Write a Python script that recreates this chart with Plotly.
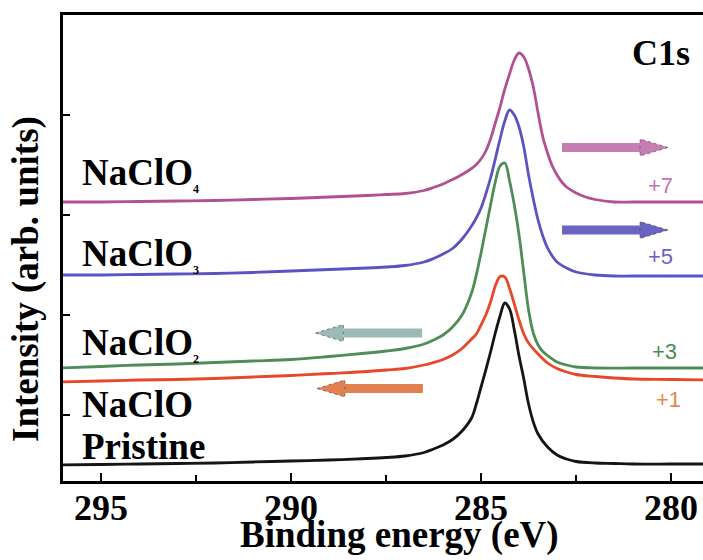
import plotly.graph_objects as go

# ---- C1s spectra (binding energy in eV, intensity in arb. units, offset per sample) ----
be_pristine = [296.1, 295, 294, 293, 292, 291, 290, 289, 288, 287.5, 287, 286.5, 286.25, 286,
               285.75, 285.5, 285.25, 285.125, 285.0, 284.875, 284.75, 284.625, 284.5, 284.375,
               284.25, 284.125, 284.0, 283.875, 283.75, 283.625, 283.5, 283.25, 283.0, 282.75,
               282.5, 282, 281.5, 281, 280, 279.1]
int_pristine = [0.50, 0.505, 0.51, 0.515, 0.52, 0.53, 0.54, 0.55, 0.565, 0.575, 0.59, 0.625, 0.66,
                0.70, 0.755, 0.84, 0.97, 1.11, 1.28, 1.45, 1.63, 1.82, 1.99, 2.12,
                2.06, 1.85, 1.59, 1.36, 1.11, 0.93, 0.81, 0.68, 0.60, 0.56,
                0.535, 0.52, 0.515, 0.51, 0.51, 0.51]

be_naclo = [296.1, 295, 294, 293, 292, 291, 290, 289, 288, 287.5, 287, 286.5, 286.25, 286,
            285.75, 285.5, 285.25, 285.125, 285.0, 284.875, 284.75, 284.625, 284.5, 284.375,
            284.25, 284.125, 284.0, 283.875, 283.75, 283.5, 283.25, 283.0, 282.75, 282.5,
            282, 281.5, 281, 280, 279.1]
int_naclo = [1.33, 1.34, 1.35, 1.355, 1.365, 1.38, 1.395, 1.415, 1.435, 1.45, 1.465, 1.50, 1.525,
             1.555, 1.60, 1.665, 1.76, 1.81, 1.90, 2.00, 2.13, 2.29, 2.385, 2.38,
             2.265, 2.11, 1.95, 1.81, 1.72, 1.61, 1.52, 1.465, 1.43, 1.405,
             1.385, 1.37, 1.36, 1.355, 1.35]

be_naclo2 = [296.1, 295, 294, 293, 292, 291, 290, 289, 288, 287.5, 287, 286.5, 286.25, 286,
             285.75, 285.5, 285.25, 285.125, 285.0, 284.875, 284.75, 284.625, 284.5, 284.375,
             284.25, 284.125, 284.0, 283.875, 283.75, 283.625, 283.5, 283.375, 283.25, 283.0,
             282.75, 282.5, 282, 281, 280, 279.1]
int_naclo2 = [1.47, 1.485, 1.50, 1.51, 1.525, 1.54, 1.555, 1.585, 1.62, 1.64, 1.665, 1.71, 1.75,
              1.80, 1.88, 2.00, 2.22, 2.40, 2.62, 2.86, 3.10, 3.33, 3.49, 3.52,
              3.34, 3.10, 2.80, 2.42, 2.05, 1.82, 1.70, 1.635, 1.595, 1.53,
              1.50, 1.48, 1.47, 1.47, 1.47, 1.47]

be_naclo3 = [296.1, 295, 294, 293, 292, 291, 290, 289, 288, 287.5, 287, 286.5, 286.25, 286,
             285.75, 285.5, 285.25, 285.125, 285.0, 284.875, 284.75, 284.625, 284.5, 284.375,
             284.25, 284.125, 284.0, 283.875, 283.75, 283.625, 283.5, 283.375, 283.25, 283.125,
             283.0, 282.75, 282.5, 282, 281.5, 281, 280, 279.1]
int_naclo3 = [2.40, 2.40, 2.405, 2.41, 2.415, 2.425, 2.44, 2.455, 2.47, 2.48, 2.495, 2.53, 2.565,
              2.61, 2.665, 2.76, 2.89, 2.97, 3.07, 3.21, 3.37, 3.56, 3.76, 3.94,
              4.05, 4.00, 3.88, 3.68, 3.40, 3.16, 2.95, 2.79, 2.67, 2.59,
              2.53, 2.47, 2.43, 2.40, 2.39, 2.39, 2.39, 2.39]

be_naclo4 = [296.1, 295, 294, 293, 292, 291, 290, 289, 288, 287.5, 287, 286.5, 286.25, 286,
             285.75, 285.5, 285.25, 285.125, 285.0, 284.875, 284.75, 284.625, 284.5, 284.375,
             284.25, 284.125, 284.0, 283.875, 283.75, 283.625, 283.5, 283.375, 283.25, 283.125,
             283.0, 282.875, 282.75, 282.5, 282.25, 282.0, 281.5, 281, 280, 279.1]
int_naclo4 = [3.13, 3.13, 3.135, 3.14, 3.145, 3.155, 3.165, 3.18, 3.195, 3.205, 3.215, 3.245, 3.275,
              3.31, 3.355, 3.405, 3.465, 3.505, 3.56, 3.64, 3.76, 3.92, 4.08, 4.26,
              4.41, 4.55, 4.62, 4.58, 4.46, 4.28, 4.02, 3.78, 3.62, 3.49,
              3.40, 3.33, 3.28, 3.22, 3.18, 3.155, 3.13, 3.13, 3.13, 3.13]

x_ticks = [295, 290, 285, 280]
x_tick_labels = ["295", "290", "285", "280"]
x_minor_ticks = [292.5, 287.5, 282.5]
y_ticks = [1, 2, 3, 4]

# Peak-shift arrows: (tail eV, tip eV, level)
shift_arrows = [
    (282.87, 280.08, 3.675),   # NaClO4
    (282.87, 280.08, 2.85),    # NaClO3
    (286.55, 289.36, 1.82),    # NaClO2
    (286.53, 289.32, 1.265),   # NaClO
]
oxidation_states = ["+7", "+5", "+3", "+1"]

# ---- styling ----
W, H = 703, 560
M_L, M_R, M_T, M_B = 63, 0, 15, 79
X_RANGE = [296.0, 279.16]
Y_RANGE = [0.34, 5.0]
px_per_ev = (W - M_L - M_R) / (X_RANGE[0] - X_RANGE[1])
px_per_unit = (H - M_T - M_B) / (Y_RANGE[1] - Y_RANGE[0])

SERIF = "Liberation Serif"
SANS = "Liberation Sans"

series = [
    ("Pristine", be_pristine, int_pristine, "#151515"),
    ("NaClO", be_naclo, int_naclo, "#e8482a"),
    ("NaClO2", be_naclo2, int_naclo2, "#4f8c57"),
    ("NaClO3", be_naclo3, int_naclo3, "#5b53c2"),
    ("NaClO4", be_naclo4, int_naclo4, "#b05292"),
]
arrow_colors = ["#c67db2", "#6a63c2", "#9bbab6", "#e2804f"]
state_colors = ["#c273b4", "#6c60c4", "#4d8c55", "#ea8550"]

fig = go.Figure()
for name, be, inten, color in series:
    fig.add_trace(go.Scatter(
        x=be, y=inten, mode="lines", name=name,
        line=dict(color=color, width=2.8, shape="spline", smoothing=1.0),
        hoverinfo="skip", showlegend=False,
    ))

# arrows built from the shift specs: thick shaft + triangular head
head_len = 28 / px_per_ev
head_half = 8.5 / px_per_unit
shapes = []
for (x0, x1, yv), col in zip(shift_arrows, arrow_colors):
    direction = 1 if x1 > x0 else -1
    base = x1 - direction * head_len
    shapes.append(dict(type="line", xref="x", yref="y", x0=x0, x1=base, y0=yv, y1=yv,
                       line=dict(color=col, width=9)))
    shapes.append(dict(type="path", xref="x", yref="y",
                       path=f"M {x1},{yv} L {base},{yv + head_half} L {base},{yv - head_half} Z",
                       fillcolor=col, line=dict(color="rgba(50,50,50,0.55)", width=1, dash="dot")))

annotations = []
sample_labels = [
    ("NaClO<sub><span style='font-size:12px'>4</span></sub>", 3.41),
    ("NaClO<sub><span style='font-size:12px'>3</span></sub>", 2.60),
    ("NaClO<sub><span style='font-size:12px'>2</span></sub>", 1.71),
    ("NaClO", 1.11),
    ("Pristine", 0.69),
]
for txt, yv in sample_labels:
    annotations.append(dict(x=295.55, y=yv, xref="x", yref="y", text=txt, showarrow=False,
                            xanchor="left", yanchor="middle",
                            font=dict(family=SERIF, size=37, color="black", weight="bold")))

state_pos = [(280.29, 3.30), (280.29, 2.59), (280.18, 1.64), (280.08, 1.16)]
for txt, (xv, yv), col in zip(oxidation_states, state_pos, state_colors):
    annotations.append(dict(x=xv, y=yv, xref="x", yref="y", text=txt, showarrow=False,
                            xanchor="center", yanchor="middle",
                            font=dict(family=SANS, size=22, color=col)))

annotations.append(dict(x=280.26, y=4.62, xref="x", yref="y", text="C1s", showarrow=False,
                        xanchor="center", yanchor="middle",
                        font=dict(family=SERIF, size=36, color="black", weight="bold")))

# x tick labels, placed at the tick values below the axis
for tv, tl in zip(x_ticks, x_tick_labels):
    annotations.append(dict(x=tv, y=-0.058, xref="x", yref="paper", text=tl, showarrow=False,
                            xanchor="center", yanchor="middle",
                            font=dict(family=SERIF, size=36, color="black", weight="bold")))

# axis titles
annotations.append(dict(x=(399 - M_L) / (W - M_L - M_R), y=-0.1157, xref="paper", yref="paper",
                        text="Binding energy (eV)", showarrow=False,
                        xanchor="center", yanchor="middle",
                        font=dict(family=SERIF, size=37, color="black", weight="bold")))
annotations.append(dict(x=-0.0578, y=0.4335, xref="paper", yref="paper",
                        text="Intensity (arb. units)", showarrow=False, textangle=-90,
                        xanchor="center", yanchor="middle",
                        font=dict(family=SERIF, size=37, color="black", weight="bold")))

fig.update_layout(
    width=W, height=H,
    margin=dict(l=M_L, r=M_R, t=M_T, b=M_B, pad=0),
    paper_bgcolor="white", plot_bgcolor="white",
    shapes=shapes, annotations=annotations,
    xaxis=dict(range=X_RANGE, showline=True, linecolor="black", linewidth=3, mirror=True,
               ticks="inside", ticklen=8, tickwidth=2, tickcolor="black",
               tickvals=x_ticks, showticklabels=False,
               minor=dict(tickvals=x_minor_ticks, ticks="inside", ticklen=6, tickwidth=2,
                          tickcolor="black"),
               showgrid=False, zeroline=False),
    yaxis=dict(range=Y_RANGE, showline=True, linecolor="black", linewidth=3, mirror=False,
               ticks="inside", ticklen=7, tickwidth=2, tickcolor="black",
               tickvals=y_ticks, showticklabels=False,
               showgrid=False, zeroline=False),
)

fig.write_html("out.html")
